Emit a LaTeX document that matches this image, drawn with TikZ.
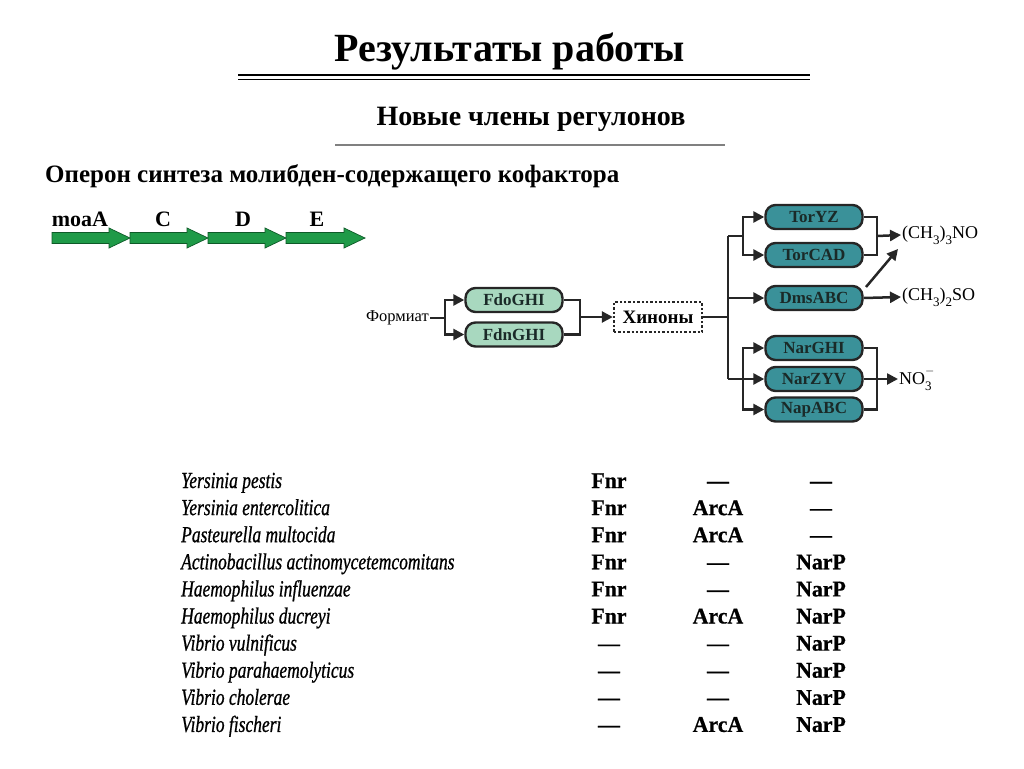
\documentclass[tikz,border=0pt]{standalone}
\usepackage{fontspec}
\setmainfont{Liberation Serif}
\newfontfamily\itfont{Liberation Serif}[FakeStretch=0.76,FakeBold=0.8,Ligatures=TeX]
\newfontfamily\regfont{Liberation Serif}[FakeStretch=0.97,FakeBold=0.6,Ligatures=TeX]
\usetikzlibrary{arrows.meta}
\definecolor{genegreen}{HTML}{1F9A48}
\definecolor{genedark}{HTML}{0E5A28}
\definecolor{lgreen}{HTML}{A8D8BF}
\definecolor{teal}{HTML}{3A9199}
\definecolor{boxtxt}{HTML}{1A2A28}
\newcommand{\lowsub}[1]{\raisebox{-0.32em}{\fontsize{13}{13}\selectfont #1}}
\newcommand{\upsub}[2]{\makebox[0pt][l]{\raisebox{0.55em}{\fontsize{13}{13}\selectfont #1}}\raisebox{-0.35em}{\fontsize{13}{13}\selectfont #2}}
\tikzset{
  gene/.style={fill=genegreen, draw=genedark, line width=0.7pt},
  genelbl/.style={font=\bfseries\fontsize{22}{22}\selectfont, anchor=base},
  protbox/.style={draw=black!85, line width=2.4pt, rounded corners=10pt, minimum width=97pt,
    minimum height=24pt, inner sep=0pt, text=boxtxt, font=\bfseries\fontsize{17}{17}\selectfont},
  fbox/.style={protbox, fill=lgreen},
  tbox/.style={protbox, fill=teal},
  conn/.style={line width=2.5pt, draw=black!85},
  arr/.style={conn, -{Triangle[length=11pt,width=11pt]}},
  chem/.style={anchor=west, inner sep=1pt, font=\fontsize{18}{18}\selectfont},
  species/.style={anchor=base west, inner sep=0pt, font=\itfont\itshape\fontsize{23}{23}\selectfont},
  reg/.style={anchor=base, inner sep=0pt, font=\regfont\bfseries\fontsize{22.5}{22.5}\selectfont},
}
\begin{document}
\begin{tikzpicture}[x=1pt,y=-1pt]
\useasboundingbox (0,0) rectangle (1024,768);
% titles
\node[anchor=base, font=\bfseries\fontsize{40}{40}\selectfont] (title) at (510,61) {Результаты работы};
\draw[line width=2.8pt] (238,75) -- (810,75);
\draw[line width=1.3pt] (238,79.5) -- (810,79.5);
\node[anchor=base, font=\bfseries\fontsize{28}{28}\selectfont] (sub) at (531,125) {Новые члены регулонов};
\draw[line width=1.4pt, black!50] (335,145) -- (725,145);
\node[anchor=base west, inner sep=0pt, font=\bfseries\fontsize{25}{25}\selectfont] (operon) at (45,182) {Оперон синтеза молибден-содержащего кофактора};
% gene arrows
\foreach \a/\b in {52/130,130/208,208/286,286/365}{
  \path[gene] (\a,232.5) -- (\b-21,232.5) -- (\b-21,228) -- (\b,238) -- (\b-21,248) -- (\b-21,243.5) -- (\a,243.5) -- cycle;
}
\node[genelbl] (gA) at (80,226) {moaA};
\node[genelbl] (gC) at (163,226) {C};
\node[genelbl] (gD) at (243,226) {D};
\node[genelbl] (gE) at (317,226) {E};
% pathway
\node[anchor=east, inner sep=1pt, font=\fontsize{16.5}{16.5}\selectfont] (form) at (430,318) {Формиат};
\node[fbox] (fdo) at (514,300) {FdoGHI};
\node[fbox] (fdn) at (514,334.5) {FdnGHI};
\node[draw=black!85, line width=2.4pt, dotted, minimum width=88pt, minimum height=30pt, inner sep=0pt,
      font=\bfseries\fontsize{19}{19}\selectfont] (hin) at (658,317) {Хиноны};
\node[tbox] (toryz) at (814,217) {TorYZ};
\node[tbox] (torcad) at (814,255) {TorCAD};
\node[tbox] (dms) at (814,298) {DmsABC};
\node[tbox] (narghi) at (814,348) {NarGHI};
\node[tbox] (narzyv) at (814,379) {NarZYV};
\node[tbox] (napabc) at (814,409.5) {NapABC};
\node[chem] (tmao) at (901,235) {(CH\lowsub{3})\lowsub{3}NO};
\node[chem] (dmso) at (901,297) {(CH\lowsub{3})\lowsub{2}SO};
\node[chem] (no3) at (898,379) {NO\upsub{$-$}{3}};
\coordinate (s1) at (445,318);
\coordinate (j1) at (580,317);
\coordinate (j2) at (728,317);
\coordinate (j3) at (728,236);
\coordinate (j4) at (743,236);
\coordinate (j5) at (728,379);
\coordinate (j6) at (743,379);
\coordinate (j7) at (728,298);
\coordinate (k1) at (877,236);
\coordinate (k2) at (877,379);
\coordinate (d1) at (866,287);
\coordinate (d2) at (898,249);
\draw[conn] (form.east) -- (s1);
\draw[arr] (s1) |- (fdo.west);
\draw[arr] (s1) |- (fdn.west);
\draw[conn] (fdo.east) -| (j1);
\draw[conn] (fdn.east) -| (j1);
\draw[arr] (j1) -- (hin.west);
\draw[conn] (hin.east) -- (j2);
\draw[conn] (j3) -- (j5);
\draw[conn] (j3) -- (j4);
\draw[arr] (j4) |- (toryz.west);
\draw[arr] (j4) |- (torcad.west);
\draw[arr] (j7) -- (dms.west);
\draw[conn] (j5) -- (j6);
\draw[arr] (j6) |- (narghi.west);
\draw[arr] (j6) -- (narzyv.west);
\draw[arr] (j6) |- (napabc.west);
\draw[conn] (toryz.east) -| (k1);
\draw[conn] (torcad.east) -| (k1);
\draw[arr] (k1) -- (tmao.west);
\draw[arr] (dms.east) -- (dmso.west);
\draw[arr] (d1) -- (d2);
\draw[conn] (narghi.east) -| (k2);
\draw[conn] (napabc.east) -| (k2);
\draw[arr] (narzyv.east) -- (no3.west);
% table
\foreach \i/\sp/\fa/\fb/\fc in {
  0/Yersinia pestis/Fnr/—/—,
  1/Yersinia entercolitica/Fnr/ArcA/—,
  2/Pasteurella multocida/Fnr/ArcA/—,
  3/Actinobacillus actinomycetemcomitans/Fnr/—/NarP,
  4/Haemophilus influenzae/Fnr/—/NarP,
  5/Haemophilus ducreyi/Fnr/ArcA/NarP,
  6/Vibrio vulnificus/—/—/NarP,
  7/Vibrio parahaemolyticus/—/—/NarP,
  8/Vibrio cholerae/—/—/NarP,
  9/Vibrio fischeri/—/ArcA/NarP}{
  \node[species] (sp\i) at (181,488+27.1*\i) {\sp};
  \node[reg] (ra\i) at (609,488+27.1*\i) {\fa};
  \node[reg] (rb\i) at (718,488+27.1*\i) {\fb};
  \node[reg] (rc\i) at (821,488+27.1*\i) {\fc};
}
\end{tikzpicture}
\end{document}
